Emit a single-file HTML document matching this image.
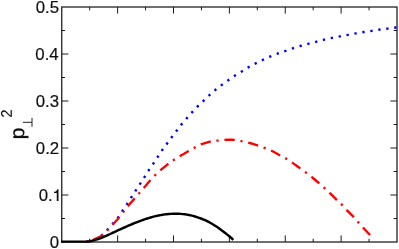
<!DOCTYPE html>
<html><head><meta charset="utf-8"><style>
html,body{margin:0;padding:0;background:#fff;}
svg{display:block;}
text{font-family:"Liberation Sans",sans-serif;fill:#111;stroke:#111;stroke-width:0.2px;}
</style></head><body>
<svg width="399" height="249" viewBox="0 0 399 249">
<defs><filter id="gs" x="-20%" y="-20%" width="140%" height="140%" color-interpolation-filters="sRGB"><feColorMatrix type="saturate" values="0"/></filter></defs>
<rect width="399" height="249" fill="#fff"/>
<g stroke="#1a1a1a" stroke-width="1.25" fill="none">
<rect x="61.75" y="7.0" width="335.25" height="235.0"/>
</g>
<g stroke="#1a1a1a" stroke-width="1" fill="none">
<line x1="89.69" y1="242.0" x2="89.69" y2="238.7"/>
<line x1="89.69" y1="7.0" x2="89.69" y2="10.3"/>
<line x1="117.62" y1="242.0" x2="117.62" y2="235.4"/>
<line x1="117.62" y1="7.0" x2="117.62" y2="13.6"/>
<line x1="145.56" y1="242.0" x2="145.56" y2="238.7"/>
<line x1="145.56" y1="7.0" x2="145.56" y2="10.3"/>
<line x1="173.50" y1="242.0" x2="173.50" y2="235.4"/>
<line x1="173.50" y1="7.0" x2="173.50" y2="13.6"/>
<line x1="201.44" y1="242.0" x2="201.44" y2="238.7"/>
<line x1="201.44" y1="7.0" x2="201.44" y2="10.3"/>
<line x1="229.38" y1="242.0" x2="229.38" y2="235.4"/>
<line x1="229.38" y1="7.0" x2="229.38" y2="13.6"/>
<line x1="257.31" y1="242.0" x2="257.31" y2="238.7"/>
<line x1="257.31" y1="7.0" x2="257.31" y2="10.3"/>
<line x1="285.25" y1="242.0" x2="285.25" y2="235.4"/>
<line x1="285.25" y1="7.0" x2="285.25" y2="13.6"/>
<line x1="313.19" y1="242.0" x2="313.19" y2="238.7"/>
<line x1="313.19" y1="7.0" x2="313.19" y2="10.3"/>
<line x1="341.12" y1="242.0" x2="341.12" y2="235.4"/>
<line x1="341.12" y1="7.0" x2="341.12" y2="13.6"/>
<line x1="369.06" y1="242.0" x2="369.06" y2="238.7"/>
<line x1="369.06" y1="7.0" x2="369.06" y2="10.3"/>
<line x1="61.75" y1="218.50" x2="65.05" y2="218.50"/>
<line x1="397.0" y1="218.50" x2="393.7" y2="218.50"/>
<line x1="61.75" y1="195.00" x2="68.35" y2="195.00"/>
<line x1="397.0" y1="195.00" x2="390.4" y2="195.00"/>
<line x1="61.75" y1="171.50" x2="65.05" y2="171.50"/>
<line x1="397.0" y1="171.50" x2="393.7" y2="171.50"/>
<line x1="61.75" y1="148.00" x2="68.35" y2="148.00"/>
<line x1="397.0" y1="148.00" x2="390.4" y2="148.00"/>
<line x1="61.75" y1="124.50" x2="65.05" y2="124.50"/>
<line x1="397.0" y1="124.50" x2="393.7" y2="124.50"/>
<line x1="61.75" y1="101.00" x2="68.35" y2="101.00"/>
<line x1="397.0" y1="101.00" x2="390.4" y2="101.00"/>
<line x1="61.75" y1="77.50" x2="65.05" y2="77.50"/>
<line x1="397.0" y1="77.50" x2="393.7" y2="77.50"/>
<line x1="61.75" y1="54.00" x2="68.35" y2="54.00"/>
<line x1="397.0" y1="54.00" x2="390.4" y2="54.00"/>
<line x1="61.75" y1="30.50" x2="65.05" y2="30.50"/>
<line x1="397.0" y1="30.50" x2="393.7" y2="30.50"/>
</g>
<g font-size="16.8" filter="url(#gs)">
<text x="59.0" y="248.05" text-anchor="end">0</text>
<text x="38.75" y="201.05">0.</text>
<path fill="#111" d="M57.25,189.15 C57.0,190.75 55.8,191.65 54.0,191.75 L54.0,193.05 L56.75,193.05 L56.75,200.90 L58.5,200.90 L58.5,189.15 Z"/>
<text x="59.2" y="154.05" text-anchor="end">0.2</text>
<text x="59.1" y="107.05" text-anchor="end">0.3</text>
<text x="58.7" y="60.05" text-anchor="end">0.4</text>
<text x="59.1" y="13.05" text-anchor="end">0.5</text>
</g>
<g fill="#111" stroke="#111" stroke-width="0.15" aria-label="p perp squared">
<path transform="translate(24.15,139.3) rotate(-90) scale(0.01031,-0.00983)" d="M1053 546Q1053 -20 655 -20Q405 -20 319 168H314Q318 160 318 -2V-425H138V861Q138 1028 132 1082H306Q307 1078 309.0 1053.5Q311 1029 313.5 978.0Q316 927 316 908H320Q368 1008 447.0 1054.5Q526 1101 655 1101Q855 1101 954.0 967.0Q1053 833 1053 546ZM864 542Q864 768 803.0 865.0Q742 962 609 962Q502 962 441.5 917.0Q381 872 349.5 776.5Q318 681 318 528Q318 315 386.0 214.0Q454 113 607 113Q741 113 802.5 211.5Q864 310 864 542Z" stroke-width="30.5"/>
<path transform="translate(11.8,117.53) rotate(-90) scale(0.00707,-0.00755)" d="M103 0V127Q154 244 227.5 333.5Q301 423 382.0 495.5Q463 568 542.5 630.0Q622 692 686.0 754.0Q750 816 789.5 884.0Q829 952 829 1038Q829 1154 761.0 1218.0Q693 1282 572 1282Q457 1282 382.5 1219.5Q308 1157 295 1044L111 1061Q131 1230 254.5 1330.0Q378 1430 572 1430Q785 1430 899.5 1329.5Q1014 1229 1014 1044Q1014 962 976.5 881.0Q939 800 865.0 719.0Q791 638 582 468Q467 374 399.0 298.5Q331 223 301 153H1036V0Z" stroke-width="19.9"/>
</g>
<g stroke="#222" stroke-width="1" fill="none"><path d="M32.0,117.9 L32.0,126.8 M32.0,122.3 L22.9,122.3"/></g>
<path d="M86.0,241.5 87.8,241.1 90.3,240.5 93.0,239.6 95.8,238.3 98.8,236.7 101.5,235.0 103.6,233.2 105.4,231.2 107.2,229.2 109.0,227.3 110.8,225.4 112.6,223.4 114.4,221.3 116.3,219.0 118.0,216.8 119.5,214.6 121.0,212.3 122.4,210.1 123.9,207.9 125.5,205.7 127.0,203.4 128.5,201.1 129.9,198.7 131.4,196.4 132.9,194.1 134.3,191.9 135.8,189.6 137.3,187.4 138.7,185.1 140.2,182.9 141.7,180.6 143.1,178.4 144.6,176.1 146.0,173.8 147.4,171.5 148.8,169.3 150.3,167.1 151.9,165.0 153.4,162.8 154.8,160.6 156.2,158.5 157.6,156.3 159.1,154.0 160.6,151.8 162.1,149.5 163.7,147.3 165.3,145.2 166.9,143.0 168.5,140.8 170.1,138.7 171.7,136.5 173.3,134.4 174.9,132.3 176.5,130.2 178.2,128.0 179.9,125.8 181.6,123.6 183.3,121.6 185.1,119.6 186.8,117.6 188.6,115.6 190.3,113.6 192.1,111.6 193.9,109.6 195.7,107.7 197.6,105.8 199.5,104.0 201.4,102.1 203.4,100.3 205.4,98.4 207.4,96.5 209.4,94.6 211.4,92.8 213.4,91.0 215.4,89.3 217.5,87.7 219.6,86.1 221.7,84.5 223.8,82.9 226.0,81.4 228.2,79.8 230.4,78.2 232.6,76.7 234.8,75.2 237.1,73.8 239.5,72.4 241.8,71.0 244.1,69.5 246.5,68.0 248.8,66.6 251.1,65.3 253.4,64.1 255.8,62.9 258.2,61.7 260.7,60.5 263.1,59.3 265.5,58.2 267.9,57.1 270.3,56.1 272.8,55.1 275.4,54.1 277.9,53.1 280.4,52.2 282.9,51.4 285.4,50.6 287.9,49.7 290.5,48.7 293.1,47.8 295.7,47.0 298.3,46.2 300.9,45.5 303.5,44.8 306.0,44.1 308.6,43.4 311.2,42.7 313.7,42.1 316.3,41.4 318.9,40.7 321.5,40.0 324.1,39.3 326.7,38.7 329.3,38.1 331.9,37.6 334.5,37.1 337.0,36.6 339.6,36.1 342.2,35.6 344.9,35.1 347.6,34.6 350.3,34.1 352.9,33.6 355.6,33.1 358.3,32.6 361.0,32.2 363.7,31.8 366.4,31.4 369.0,31.0 371.7,30.6 374.4,30.2 377.0,29.7 379.7,29.3 382.3,28.9 384.9,28.6 387.5,28.3 390.4,27.9 393.3,27.6 395.5,27.3 396.5,27.2 396.9,27.1 397.0,27.1" fill="none" stroke="#0000ff" stroke-width="2.4" stroke-dasharray="2.3 5.749" stroke-dashoffset="0.15" transform="translate(0.35,0.25)"/>
<path d="M86.0,241.5 87.7,241.1 90.3,240.5 93.0,239.6 96.0,238.4 99.3,236.8 102.1,235.2 104.2,233.5 105.9,231.6 107.6,229.7 109.3,227.9 111.0,226.1 112.8,224.1 114.8,221.9 116.9,219.6 118.8,217.4 120.5,215.3 122.0,213.3 123.5,211.3 125.0,209.3 126.6,207.4 128.2,205.4 130.0,203.2 132.0,201.0 133.9,198.8 135.8,196.7 137.6,194.6 139.3,192.7 140.6,191.2 141.8,189.8 143.3,188.1 145.4,185.6 147.8,182.7 150.1,180.1 152.0,178.1 153.7,176.3 155.4,174.6 157.1,173.0 158.8,171.4 160.9,169.6 163.6,167.3 166.7,164.7 169.4,162.6 171.2,161.2 172.6,160.3 174.2,159.3 176.0,158.2 177.9,157.0 180.2,155.6 183.4,153.8 187.1,151.7 190.2,150.0 192.1,148.9 193.3,148.1 194.7,147.3 196.4,146.3 198.2,145.3 200.5,144.2 203.9,143.2 207.8,142.1 211.2,141.2 213.6,140.8 215.5,140.7 217.5,140.5 219.6,140.2 221.7,139.9 224.2,139.8 227.7,139.6 231.6,139.6 235.0,139.8 237.4,140.1 239.3,140.5 241.2,141.0 243.3,141.4 245.5,141.9 248.0,142.5 251.2,143.4 254.8,144.5 258.0,145.5 260.4,146.3 262.3,147.0 264.2,147.8 266.0,148.4 267.8,149.0 270.0,150.0 273.2,151.7 276.8,153.7 280.0,155.5 282.3,156.7 284.2,157.6 286.0,158.6 287.9,159.8 289.7,161.0 291.8,162.5 294.4,164.3 297.3,166.4 300.0,168.3 302.2,169.9 304.2,171.4 306.1,172.8 307.8,174.1 309.4,175.3 311.3,176.8 313.9,178.9 316.7,181.4 319.3,183.6 321.3,185.3 322.9,186.8 324.5,188.3 326.0,189.7 327.5,191.1 329.3,192.8 331.7,195.1 334.4,197.8 336.8,200.2 338.7,202.0 340.4,203.5 342.0,205.0 343.5,206.6 344.8,208.3 346.5,210.1 348.7,212.3 351.2,214.7 353.4,217.0 355.2,219.0 356.8,220.8 358.4,222.6 359.8,224.2 361.2,225.8 362.9,227.6 365.3,230.2 368.0,233.1 369.9,235.1" fill="none" stroke="#ff0000" stroke-width="2.35" stroke-dasharray="2.2 5.8 10.4 5.746" stroke-dashoffset="0.15" transform="translate(0.3,0.1)"/>
<path d="M61.0,241.6 84.0,241.6 86.0,241.6 88.0,241.5 90.1,241.2 92.1,240.8 94.1,240.3 96.1,239.7 98.1,239.1 100.1,238.3 102.2,237.5 104.2,236.7 106.2,235.8 108.2,234.9 110.2,234.0 112.2,233.0 114.3,232.1 116.3,231.2 118.3,230.2 120.3,229.3 122.3,228.4 124.4,227.5 126.4,226.6 128.4,225.7 130.4,224.8 132.4,224.0 134.4,223.2 136.5,222.4 138.5,221.6 140.5,220.8 142.5,220.1 144.5,219.4 146.5,218.7 148.6,218.1 150.6,217.5 152.6,216.9 154.6,216.4 156.6,215.9 158.7,215.5 160.7,215.1 162.7,214.7 164.7,214.4 166.7,214.2 168.7,214.0 170.8,213.9 172.8,213.8 174.8,213.7 176.8,213.7 178.8,213.8 180.8,213.9 182.9,214.1 184.9,214.3 186.9,214.6 188.9,215.0 190.9,215.4 192.9,215.9 195.0,216.5 197.0,217.1 199.0,217.8 201.0,218.5 203.0,219.3 205.1,220.2 207.1,221.2 209.1,222.2 211.1,223.3 213.1,224.5 215.1,225.7 217.2,227.0 219.2,228.4 221.2,229.9 223.2,231.4 225.2,232.9 227.2,234.6 229.3,236.3 231.3,238.0 233.3,239.8" fill="none" stroke="#000" stroke-width="2.45" stroke-linejoin="round"/>
</svg>
</body></html>
